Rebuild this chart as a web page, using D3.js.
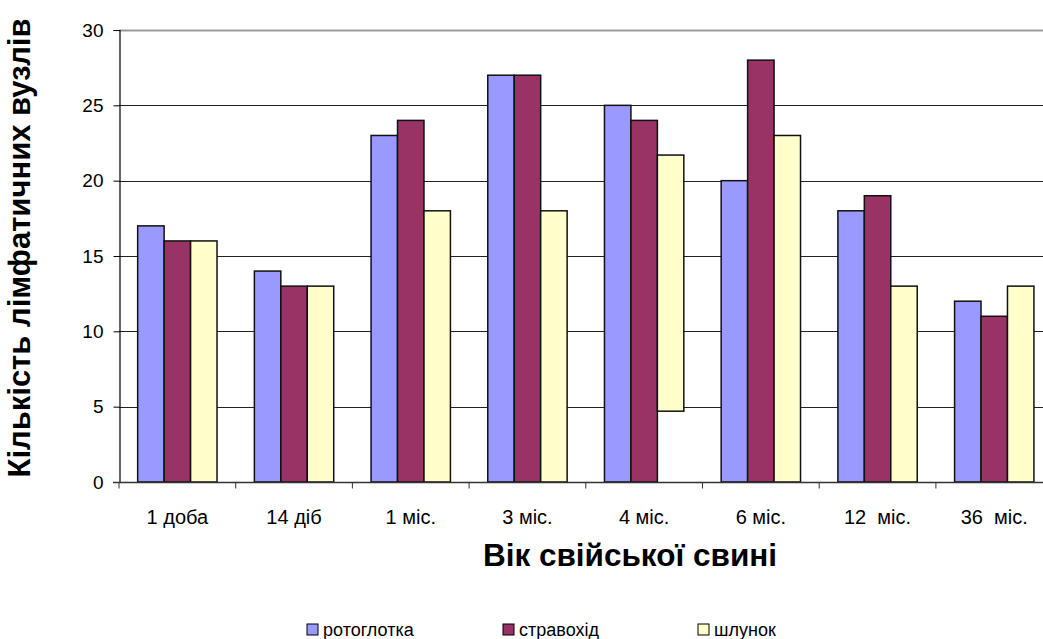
<!DOCTYPE html>
<html>
<head>
<meta charset="utf-8">
<script src="https://cdn.jsdelivr.net/npm/d3@7"></script>
<style>
  body { margin: 0; background: #fff; }
  svg { display: block; font-family: "Liberation Sans", Arial, sans-serif; }
</style>
</head>
<body>
<svg id="chart" width="1043" height="639"></svg>
<script>
// data
var categories = ["1 доба", "14 діб", "1 міс.", "3 міс.", "4 міс.", "6 міс.", "12  міс.", "36  міс."];
var seriesNames = ["ротоглотка", "стравохід", "шлунок"];
var rotoglotka = [17, 14, 23, 27, 25, 20, 18, 12];
var stravokhid = [16, 13, 24, 27, 24, 28, 19, 11];
var shlunok = [16, 13, 18, 18, 21.7, 23, 13, 13];
// the stomach bar at 4 міс. floats, it starts above zero
var shlunokBase = [0, 0, 0, 0, 4.7, 0, 0, 0];
var yTicks = [0, 5, 10, 15, 20, 25, 30];
var colors = ["#9999ff", "#993366", "#ffffcc"];

var svg = d3.select("#chart");
var plotLeft = 119, plotTop = 30, plotBottom = 482;
var band = 116.7;

var x = d3.scaleBand()
  .domain(categories)
  .range([plotLeft, plotLeft + band * categories.length])
  .paddingInner(0.32)
  .paddingOuter(0.16);

var xs = d3.scaleBand()
  .domain(seriesNames)
  .range([0, x.bandwidth()]);

var y = d3.scaleLinear().domain([0, 30]).range([plotBottom, plotTop]);

// gridlines
svg.append("g")
  .selectAll("line")
  .data(yTicks.filter(d => d > 0))
  .enter()
  .append("line")
  .attr("x1", plotLeft)
  .attr("x2", 1043)
  .attr("y1", d => Math.round(y(d)) + 0.5)
  .attr("y2", d => Math.round(y(d)) + 0.5)
  .attr("stroke", d => d === 30 ? "#999" : "#222")
  .attr("stroke-width", d => d === 30 ? 2 : 1.2);

// bars
var rows = [];
categories.forEach((c, i) => {
  rows.push({ cat: c, s: 0, lo: 0, hi: rotoglotka[i] });
  rows.push({ cat: c, s: 1, lo: 0, hi: stravokhid[i] });
  rows.push({ cat: c, s: 2, lo: shlunokBase[i], hi: shlunok[i] });
});

svg.append("g")
  .selectAll("rect")
  .data(rows)
  .enter()
  .append("rect")
  .attr("x", d => x(d.cat) + xs(seriesNames[d.s]))
  .attr("width", xs.bandwidth())
  .attr("y", d => y(d.hi))
  .attr("height", d => y(d.lo) - y(d.hi))
  .attr("fill", d => colors[d.s])
  .attr("stroke", "#111")
  .attr("stroke-width", 1.5);

// y axis
var yAxis = d3.axisLeft(y)
  .tickValues(yTicks)
  .tickSize(6)
  .tickPadding(10);
var gy = svg.append("g")
  .attr("transform", "translate(" + (plotLeft + 0.5) + ",0)")
  .call(yAxis);
gy.select(".domain").attr("stroke", "#000").attr("stroke-width", 1.2);
gy.selectAll(".tick line").attr("stroke", "#000");
gy.selectAll(".tick text")
  .attr("font-size", 19)
  .attr("fill", "#000")
  .attr("font-family", "Liberation Sans, Arial, sans-serif");

// x axis
var gx = svg.append("g")
  .attr("transform", "translate(0," + (plotBottom + 0.5) + ")");
gx.append("line")
  .attr("x1", plotLeft - 6)
  .attr("x2", 1043)
  .attr("stroke", "#333")
  .attr("stroke-width", 1.5);
gx.selectAll(".xt")
  .data(d3.range(categories.length + 1))
  .enter()
  .append("line")
  .attr("x1", i => plotLeft + band * i)
  .attr("x2", i => plotLeft + band * i)
  .attr("y1", 0)
  .attr("y2", 6)
  .attr("stroke", "#333");
gx.selectAll("text")
  .data(categories)
  .enter()
  .append("text")
  .attr("x", d => x(d) + x.bandwidth() / 2)
  .attr("y", 41)
  .attr("text-anchor", "middle")
  .attr("font-size", 20)
  .attr("xml:space", "preserve")
  .style("white-space", "pre")
  .text(d => d);

// titles
svg.append("text")
  .attr("transform", "translate(30,248) rotate(-90)")
  .attr("text-anchor", "middle")
  .attr("font-size", 31)
  .attr("font-weight", "bold")
  .text("Кількість лімфатичних вузлів");

svg.append("text")
  .attr("x", 630)
  .attr("y", 566)
  .attr("text-anchor", "middle")
  .attr("font-size", 31.5)
  .attr("font-weight", "bold")
  .text("Вік свійської свині");

// legend
var legendX = [307, 503, 698];
var lg = svg.append("g")
  .selectAll("g")
  .data(seriesNames)
  .enter()
  .append("g")
  .attr("transform", (d, i) => "translate(" + legendX[i] + ",624)");
lg.append("rect")
  .attr("width", 11)
  .attr("height", 11)
  .attr("fill", (d, i) => colors[i])
  .attr("stroke", "#000")
  .attr("stroke-width", 1);
lg.append("text")
  .attr("x", 16)
  .attr("y", 12)
  .attr("font-size", 18)
  .text(d => d);
</script>
</body>
</html>
